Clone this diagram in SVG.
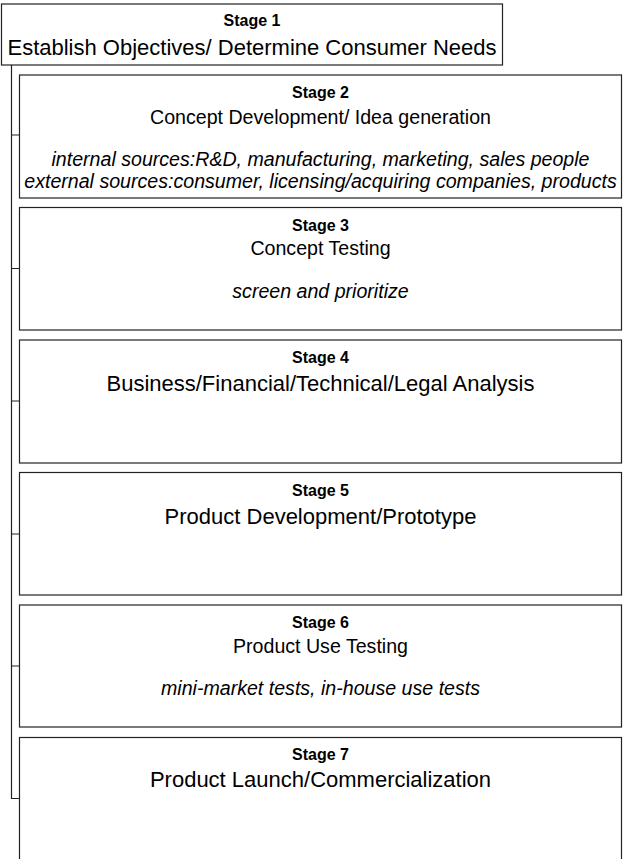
<svg xmlns="http://www.w3.org/2000/svg" width="623" height="859" viewBox="0 0 623 859">
<style>
.box{fill:#fff;stroke:#222;stroke-width:1.2}
.conn{fill:none;stroke:#222;stroke-width:1.2}
text{font-family:"Liberation Sans",Arial,sans-serif;fill:#000;text-anchor:middle}
.lbl{font-weight:bold;font-size:16px}
.t1{font-size:22px}
.t2{font-size:19.6px}
.it{font-size:19.6px;font-style:italic}
</style>
<rect width="623" height="859" fill="#fff"/>
<g id="connectors">
<path class="conn" d="M11.5,65 V798.5 H19.5"/>
<path class="conn" d="M11.5,135 H19.5 M11.5,268.5 H19.5 M11.5,401 H19.5 M11.5,534 H19.5 M11.5,666 H19.5"/>
</g>
<g id="stage1">
<rect class="box" x="1.5" y="4" width="501" height="61"/>
<text class="lbl" x="252" y="26">Stage 1</text>
<text class="t1" x="252" y="55">Establish Objectives/ Determine Consumer Needs</text>
</g>
<g id="stage2">
<rect class="box" x="19.5" y="75" width="602" height="123"/>
<text class="lbl" x="320.5" y="98">Stage 2</text>
<text class="t2" x="320.5" y="124">Concept Development/ Idea generation</text>
<text class="it" x="320.5" y="166">internal sources:R&amp;D, manufacturing, marketing, sales people</text>
<text class="it" x="320.5" y="188">external sources:consumer, licensing/acquiring companies, products</text>
</g>
<g id="stage3">
<rect class="box" x="19.5" y="207.5" width="602" height="122.5"/>
<text class="lbl" x="320.5" y="231">Stage 3</text>
<text class="t2" x="320.5" y="255">Concept Testing</text>
<text class="it" x="320.5" y="298">screen and prioritize</text>
</g>
<g id="stage4">
<rect class="box" x="19.5" y="340" width="602" height="123"/>
<text class="lbl" x="320.5" y="363">Stage 4</text>
<text class="t1" x="320.5" y="391">Business/Financial/Technical/Legal Analysis</text>
</g>
<g id="stage5">
<rect class="box" x="19.5" y="472.5" width="602" height="122.5"/>
<text class="lbl" x="320.5" y="496">Stage 5</text>
<text class="t1" x="320.5" y="524">Product Development/Prototype</text>
</g>
<g id="stage6">
<rect class="box" x="19.5" y="605" width="602" height="122"/>
<text class="lbl" x="320.5" y="628">Stage 6</text>
<text class="t2" x="320.5" y="653">Product Use Testing</text>
<text class="it" x="320.5" y="695">mini-market tests, in-house use tests</text>
</g>
<g id="stage7">
<rect class="box" x="19.5" y="737.5" width="602" height="130"/>
<text class="lbl" x="320.5" y="760">Stage 7</text>
<text class="t1" x="320.5" y="787">Product Launch/Commercialization</text>
</g>
</svg>
